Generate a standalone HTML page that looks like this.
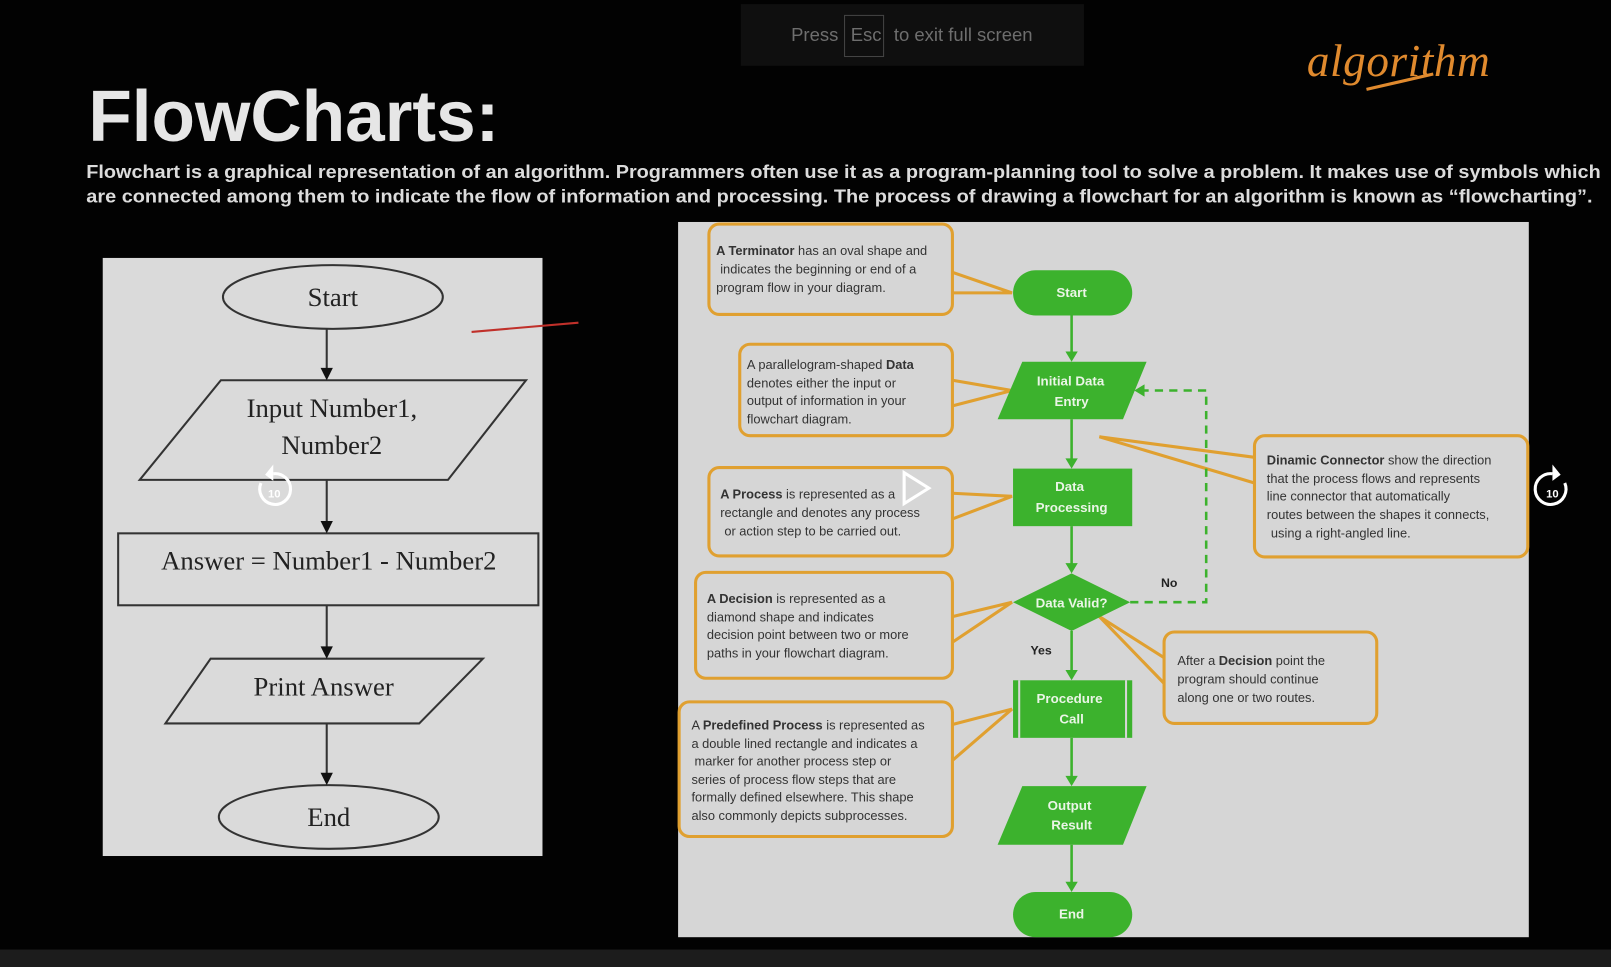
<!DOCTYPE html>
<html><head><meta charset="utf-8"><style>html,body{margin:0;padding:0;background:#000;}svg{display:block}</style></head><body>
<svg width="1611" height="967" viewBox="0 0 1568 941" preserveAspectRatio="none" xmlns="http://www.w3.org/2000/svg">
<rect width="1568" height="941" fill="#020202"/>
<rect y="924" width="1568" height="17" fill="#1c1c1c"/>
<rect x="721" y="4" width="334" height="60" fill="#0f0f0f"/>
<text x="770" y="40" font-family="Liberation Sans, sans-serif" font-size="18" fill="#6e6e6e">Press</text>
<rect x="822" y="15" width="38" height="40" fill="none" stroke="#444"/>
<text x="828" y="40" font-family="Liberation Sans, sans-serif" font-size="18" fill="#6e6e6e">Esc</text>
<text x="870" y="40" font-family="Liberation Sans, sans-serif" font-size="18" fill="#6e6e6e">to exit full screen</text>
<text x="1272" y="74" font-family="Liberation Serif, serif" font-style="italic" font-size="44" fill="#e08a2e" textLength="178">algorithm</text>
<path d="M1330 87 L1395 72" stroke="#e08a2e" stroke-width="3"/>
<text x="86" y="137" font-family="Liberation Sans, sans-serif" font-weight="bold" font-size="70" fill="#e6e6e6" textLength="400" lengthAdjust="spacingAndGlyphs">FlowCharts:</text>
<g font-family="Liberation Sans, sans-serif" font-weight="bold" font-size="18" fill="#dcdcdc">
<text x="84" y="173" textLength="1474" lengthAdjust="spacingAndGlyphs">Flowchart is a graphical representation of an algorithm. Programmers often use it as a program-planning tool to solve a problem. It makes use of symbols which</text>
<text x="84" y="197" textLength="1466" lengthAdjust="spacingAndGlyphs">are connected among them to indicate the flow of information and processing. The process of drawing a flowchart for an algorithm is known as “flowcharting”.</text>
</g>
<!-- left panel -->
<rect x="100" y="251" width="428" height="582" fill="#dadada"/>
<g fill="none" stroke="#333" stroke-width="2">
<ellipse cx="324" cy="289" rx="107" ry="31"/>
<polygon points="215,370 512,370 436,467 136,467"/>
<rect x="115" y="519" width="409" height="70"/>
<polygon points="205,641 470,641 408,704 161,704"/>
<ellipse cx="320" cy="795" rx="107" ry="31"/>
<path d="M318 320V360M318 467V509M318 589V631M318 704V754"/>
</g>
<g fill="#111"><path d="M312 358L318 370L324 358Z"/><path d="M312 507L318 519L324 507Z"/><path d="M312 629L318 641L324 629Z"/><path d="M312 752L318 764L324 752Z"/></g>
<g font-family="Liberation Serif, serif" font-size="26" fill="#222" text-anchor="middle">
<text x="324" y="298">Start</text>
<text x="323" y="406">Input Number1,</text>
<text x="323" y="442">Number2</text>
<text x="320" y="554">Answer = Number1  - Number2</text>
<text x="315" y="677">Print Answer</text>
<text x="320" y="804">End</text>
</g>
<path d="M459 323L563 314" stroke="#c0302a" stroke-width="2"/>
<!-- right panel -->
<rect x="660" y="216" width="828" height="696" fill="#d6d6d6"/>
<g fill="none" stroke="#e0a030" stroke-width="3">
<rect x="690" y="218" width="237" height="88" rx="10"/>
<rect x="720" y="335" width="207" height="89" rx="10"/>
<rect x="690" y="455" width="237" height="86" rx="10"/>
<rect x="677" y="557" width="250" height="103" rx="10"/>
<rect x="661" y="683" width="266" height="131" rx="10"/>
<rect x="1221" y="424" width="266" height="118" rx="10"/>
<rect x="1133" y="615" width="207" height="89" rx="10"/>
<path d="M927 265L985 285L927 285M927 370L985 380L927 395M927 480L985 483L927 505M927 600L985 586L927 625M927 705L985 690L927 740M1221 445L1070 425L1221 470M1133 640L1070 600L1133 665"/>
</g>
<g fill="#3cb22d">
<rect x="986" y="263" width="116" height="44" rx="22"/>
<polygon points="995,352 1116,352 1093,408 971,408"/>
<rect x="986" y="456" width="116" height="56"/>
<polygon points="1043,558 1100,586 1043,614 986,586"/>
<rect x="986" y="662" width="116" height="56"/>
<polygon points="995,765 1116,765 1093,822 971,822"/>
<rect x="986" y="868" width="116" height="44" rx="22"/>
</g>
<path d="M992 662V718M1096 662V718" stroke="#d6d6d6" stroke-width="2"/>
<g stroke="#3cb22d" stroke-width="2.5" fill="none">
<path d="M1043 307V344M1043 408V448M1043 512V550M1043 614V654M1043 718V757M1043 822V860"/>
<path d="M1100 586H1174V380H1112" stroke-dasharray="8,6"/>
</g>
<g fill="#3cb22d"><path d="M1037 342L1043 352L1049 342Z"/><path d="M1037 446L1043 456L1049 446Z"/><path d="M1037 548L1043 558L1049 548Z"/><path d="M1037 652L1043 662L1049 652Z"/><path d="M1037 755L1043 765L1049 755Z"/><path d="M1037 858L1043 868L1049 858Z"/><path d="M1114 374L1104 380L1114 386Z"/></g>
<g font-family="Liberation Sans, sans-serif" font-weight="bold" font-size="13" fill="#eaf5e6" text-anchor="middle">
<text x="1043" y="289">Start</text>
<text x="1042" y="375">Initial Data</text><text x="1043" y="395">Entry</text>
<text x="1041" y="478">Data</text><text x="1043" y="498">Processing</text>
<text x="1043" y="591">Data Valid?</text>
<text x="1041" y="684">Procedure</text><text x="1043" y="704">Call</text>
<text x="1041" y="788">Output</text><text x="1043" y="807">Result</text>
<text x="1043" y="894">End</text>
</g>
<g font-family="Liberation Sans, sans-serif" font-weight="bold" font-size="12" fill="#222">
<text x="1130" y="571">No</text><text x="1003" y="637">Yes</text>
</g>
<g font-family="Liberation Sans, sans-serif" font-size="12.5" fill="#333">
<text x="697" y="248"><tspan font-weight="bold">A Terminator</tspan> has an oval shape and</text>
<text x="701" y="266">indicates the beginning or end of a</text>
<text x="697" y="284">program flow in your diagram.</text>
<text x="727" y="359">A parallelogram-shaped <tspan font-weight="bold">Data</tspan></text>
<text x="727" y="377">denotes either the input or</text>
<text x="727" y="394">output of information in your</text>
<text x="727" y="412">flowchart diagram.</text>
<text x="701" y="485"><tspan font-weight="bold">A Process</tspan> is represented as a</text>
<text x="701" y="503">rectangle and denotes any process</text>
<text x="705" y="521">or action step to be carried out.</text>
<text x="688" y="587"><tspan font-weight="bold">A Decision</tspan> is represented as a</text>
<text x="688" y="605">diamond shape and indicates</text>
<text x="688" y="622">decision point between two or more</text>
<text x="688" y="640">paths in your flowchart diagram.</text>
<text x="673" y="710">A <tspan font-weight="bold">Predefined Process</tspan> is represented as</text>
<text x="673" y="728">a double lined rectangle and indicates a</text>
<text x="676" y="745">marker for another process step or</text>
<text x="673" y="763">series of process flow steps that are</text>
<text x="673" y="780">formally defined elsewhere. This shape</text>
<text x="673" y="798">also commonly depicts subprocesses.</text>
<text x="1233" y="452"><tspan font-weight="bold">Dinamic Connector</tspan> show the direction</text>
<text x="1233" y="470">that the process flows and represents</text>
<text x="1233" y="487">line connector that automatically</text>
<text x="1233" y="505">routes between the shapes it connects,</text>
<text x="1237" y="523">using a right-angled line.</text>
<text x="1146" y="647">After a <tspan font-weight="bold">Decision</tspan> point the</text>
<text x="1146" y="665">program should continue</text>
<text x="1146" y="683">along one or two routes.</text>
</g>
<!-- overlay icons -->
<g fill="none" stroke="#fff" stroke-width="3">
<path d="M254 470 A15 15 0 1 0 266 461"/>
<path d="M1523 470 A15 15 0 1 1 1511 461"/>
<polygon points="880,460 904,475 880,490"/>
</g>
<path d="M266 452L258 462L266 468Z" fill="#fff"/>
<path d="M1511 452L1519 462L1511 468Z" fill="#fff"/>
<g font-family="Liberation Sans, sans-serif" font-weight="bold" font-size="11" fill="#fff" text-anchor="middle">
<text x="267" y="484">10</text><text x="1511" y="484">10</text>
</g>
</svg>
</body></html>
